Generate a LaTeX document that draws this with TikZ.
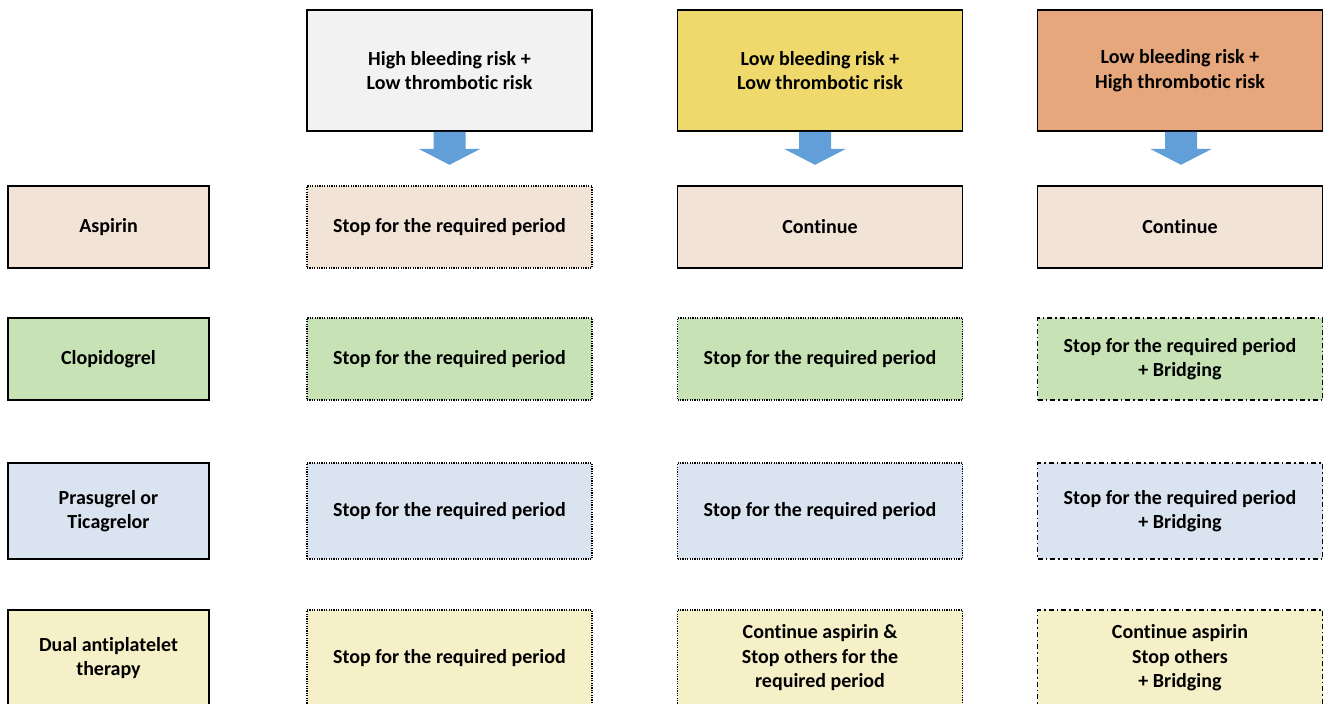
\documentclass[tikz,border=0pt]{standalone}
\usepackage{fontspec}
\setmainfont[Ligatures={NoCommon}]{Carlito}
\usetikzlibrary{calc}
\definecolor{hdrgray}{HTML}{F2F2F2}
\definecolor{hdryellow}{HTML}{EFD96C}
\definecolor{hdrorange}{HTML}{E5A77B}
\definecolor{rowpeach}{HTML}{F2E3D7}
\definecolor{rowgreen}{HTML}{C7E3B6}
\definecolor{rowblue}{HTML}{DAE4F0}
\definecolor{rowcream}{HTML}{F5F0C8}
\definecolor{arrowblue}{HTML}{629FD8}
\tikzset{
  box/.style={draw=black, line width=1.6pt, inner sep=0pt, align=center,
    font=\bfseries\fontsize{20}{24.5}\selectfont},
  sidebox/.style={box, minimum width=201pt},
  colbox/.style={box, minimum width=285pt},
  hdr/.style={colbox, minimum height=121pt},
  rowa/.style={minimum height=82pt},
  rowb/.style={minimum height=96pt},
  dotline/.style={line width=1.4pt, dash pattern=on 1.2pt off 1.2pt},
  dashdotline/.style={line width=1.5pt, dash pattern=on 5pt off 3pt on 1.5pt off 3pt},
  blockarrow/.style={fill=arrowblue, draw=none}
}
\begin{document}
\begin{tikzpicture}[x=1pt,y=-1pt]
\clip (0,0) rectangle (1323,704);
\fill[white] (0,0) rectangle (1323,704);

% column headers
\node[hdr, fill=hdrgray]   (h1) at (449.5,70.5) {High bleeding risk +\\Low thrombotic risk};
\node[hdr, fill=hdryellow] (h2) at (820,70.5)   {Low bleeding risk +\\Low thrombotic risk};
\node[hdr, fill=hdrorange] (h3) at (1180,70.5)  {Low bleeding risk +\\High thrombotic risk};

% block arrows below the headers
\foreach \h/\dx in {h1/0, h2/-5, h3/1} {
  \fill[blockarrow]
    ($(\h.south)+(\dx-16,0)$) -- ($(\h.south)+(\dx+16,0)$) --
    ($(\h.south)+(\dx+16,17)$) -- ($(\h.south)+(\dx+31,17)$) --
    ($(\h.south)+(\dx,33)$) -- ($(\h.south)+(\dx-31,17)$) --
    ($(\h.south)+(\dx-16,17)$) -- cycle;
}

% drug labels
\node[sidebox, rowa, fill=rowpeach] (d1) at (108.5,227) {Aspirin};
\node[sidebox, rowa, fill=rowgreen] (d2) at (108.5,359) {Clopidogrel};
\node[sidebox, rowb, fill=rowblue]  (d3) at (108.5,511) {Prasugrel or\\Ticagrelor};
\node[sidebox, rowb, fill=rowcream] (d4) at (108.5,658) {Dual antiplatelet\\therapy};

% high bleeding / low thrombotic
\node[colbox, rowa, dotline, fill=rowpeach] (a1) at (449.5,227) {Stop for the required period};
\node[colbox, rowa, dotline, fill=rowgreen]  (a2) at (449.5,359) {Stop for the required period};
\node[colbox, rowb, dotline, fill=rowblue]   (a3) at (449.5,511) {Stop for the required period};
\node[colbox, rowb, dotline, fill=rowcream]  (a4) at (449.5,658) {Stop for the required period};

% low bleeding / low thrombotic
\node[colbox, rowa, fill=rowpeach]          (b1) at (820,227) {Continue};
\node[colbox, rowa, dotline, fill=rowgreen] (b2) at (820,359) {Stop for the required period};
\node[colbox, rowb, dotline, fill=rowblue]  (b3) at (820,511) {Stop for the required period};
\node[colbox, rowb, dotline, fill=rowcream] (b4) at (820,658) {Continue aspirin \&\\Stop others for the\\required period};

% low bleeding / high thrombotic
\node[colbox, rowa, fill=rowpeach]              (c1) at (1180,227) {Continue};
\node[colbox, rowa, dashdotline, fill=rowgreen] (c2) at (1180,359) {Stop for the required period\\+ Bridging};
\node[colbox, rowb, dashdotline, fill=rowblue]  (c3) at (1180,511) {Stop for the required period\\+ Bridging};
\node[colbox, rowb, dashdotline, fill=rowcream] (c4) at (1180,658) {Continue aspirin\\Stop others\\+ Bridging};
\end{tikzpicture}
\end{document}
